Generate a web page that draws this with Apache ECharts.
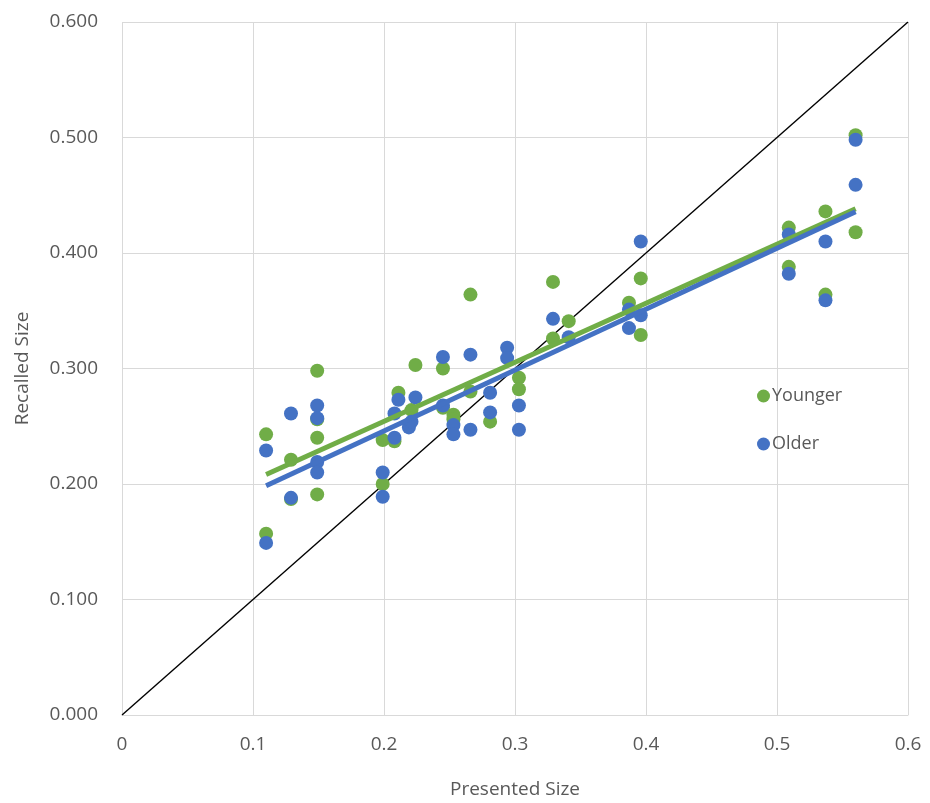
<!DOCTYPE html>
<html><head><meta charset="utf-8">
<script src="https://cdn.jsdelivr.net/npm/echarts@6/dist/echarts.min.js"></script>
<style>html,body{margin:0;padding:0;background:#fff}#c{width:930px;height:803px}</style>
</head><body><div id="c"></div>
<script>
// Younger (green) points: [presented, recalled]
const youngerX = [0.110,0.110,0.129,0.129,0.149,0.149,0.149,0.149,0.199,0.199,0.208,0.211,0.221,0.224,0.245,0.245,0.253,0.253,0.266,0.266,0.281,0.303,0.303,0.329,0.329,0.341,0.387,0.396,0.396,0.509,0.509,0.537,0.537,0.560,0.560];
const youngerY = [0.243,0.157,0.221,0.187,0.298,0.256,0.240,0.191,0.238,0.200,0.237,0.279,0.264,0.303,0.300,0.266,0.260,0.256,0.364,0.280,0.254,0.292,0.282,0.375,0.326,0.341,0.357,0.378,0.329,0.422,0.388,0.436,0.364,0.502,0.418];
// Older (blue) points
const olderX = [0.110,0.110,0.129,0.129,0.149,0.149,0.149,0.149,0.199,0.199,0.208,0.208,0.211,0.219,0.221,0.224,0.245,0.245,0.253,0.253,0.266,0.266,0.281,0.281,0.294,0.294,0.303,0.303,0.329,0.341,0.387,0.387,0.396,0.396,0.509,0.509,0.537,0.537,0.560,0.560];
const olderY = [0.229,0.149,0.261,0.188,0.268,0.257,0.219,0.210,0.210,0.189,0.261,0.240,0.273,0.249,0.254,0.275,0.310,0.268,0.251,0.243,0.312,0.247,0.279,0.262,0.318,0.309,0.268,0.247,0.343,0.327,0.351,0.335,0.410,0.346,0.416,0.382,0.410,0.359,0.498,0.459];
const xTicks = [0,0.1,0.2,0.3,0.4,0.5,0.6];
const yTicks = [0,0.1,0.2,0.3,0.4,0.5,0.6];
const diagonal = [[0,0],[0.6,0.6]];

function pairs(xs, ys){ return xs.map((x,i)=>[x, ys[i]]); }
function trend(xs, ys){
  const n = xs.length;
  const mx = xs.reduce((a,b)=>a+b,0)/n, my = ys.reduce((a,b)=>a+b,0)/n;
  let sxy=0, sxx=0;
  for(let i=0;i<n;i++){ sxy+=(xs[i]-mx)*(ys[i]-my); sxx+=(xs[i]-mx)**2; }
  const b = sxy/sxx, a = my-b*mx;
  const x0 = Math.min(...xs), x1 = Math.max(...xs);
  return [[x0, a+b*x0],[x1, a+b*x1]];
}
const GREEN='#70AD47', BLUE='#4472C4', TXT='#595959';
const FONT='"Open Sans", sans-serif';
const chart = echarts.init(document.getElementById('c'));
chart.setOption({
  animation:false,
  textStyle:{fontFamily:FONT},
  grid:{left:122,right:22,top:22,bottom:88,containLabel:false,outerBoundsMode:'none'},
  xAxis:{type:'value',min:0,max:0.6,interval:0.1,
    name:'Presented Size',nameLocation:'middle',nameGap:65,
    nameTextStyle:{color:TXT,fontSize:19,fontFamily:FONT},
    axisLine:{show:true,lineStyle:{color:'#d9d9d9',width:1}},
    axisTick:{show:false},
    axisLabel:{color:TXT,fontSize:19,fontFamily:FONT,margin:20,
      formatter:v=>{const t=xTicks.find(t=>Math.abs(t-v)<1e-9);return t===0?'0':String(+t.toFixed(1));}},
    splitLine:{show:true,lineStyle:{color:'#d9d9d9',width:1}}},
  yAxis:{type:'value',min:0,max:0.6,interval:0.1,
    name:'Recalled Size',nameLocation:'middle',nameGap:90,
    nameTextStyle:{color:TXT,fontSize:19,fontFamily:FONT},
    axisLine:{show:false},axisTick:{show:false},
    axisLabel:{color:TXT,fontSize:19,fontFamily:FONT,margin:24,
      formatter:v=>{const t=yTicks.find(t=>Math.abs(t-v)<1e-9);return t.toFixed(3);}},
    splitLine:{show:true,lineStyle:{color:'#d9d9d9',width:1}}},
  legend:{orient:'vertical',left:752,top:382,itemGap:30,itemWidth:13,itemHeight:13,
    icon:'circle',textStyle:{color:TXT,fontSize:18,fontFamily:FONT,padding:[0,0,0,-3]},
    data:['Younger','Older']},
  series:[
    {name:'Diagonal',type:'line',data:diagonal,symbol:'none',silent:true,
      lineStyle:{color:'#000',width:1.4},z:1},
    {name:'Younger',type:'scatter',data:pairs(youngerX,youngerY),symbolSize:14,
      itemStyle:{color:GREEN,opacity:1},z:2},
    {name:'Older',type:'scatter',data:pairs(olderX,olderY),symbolSize:14,
      itemStyle:{color:BLUE,opacity:1},z:3},
    {name:'Younger trend',type:'line',data:trend(youngerX,youngerY),symbol:'none',
      lineStyle:{color:GREEN,width:5},z:4},
    {name:'Older trend',type:'line',data:trend(olderX,olderY),symbol:'none',
      lineStyle:{color:BLUE,width:5},z:5}
  ]
});
</script></body></html>
